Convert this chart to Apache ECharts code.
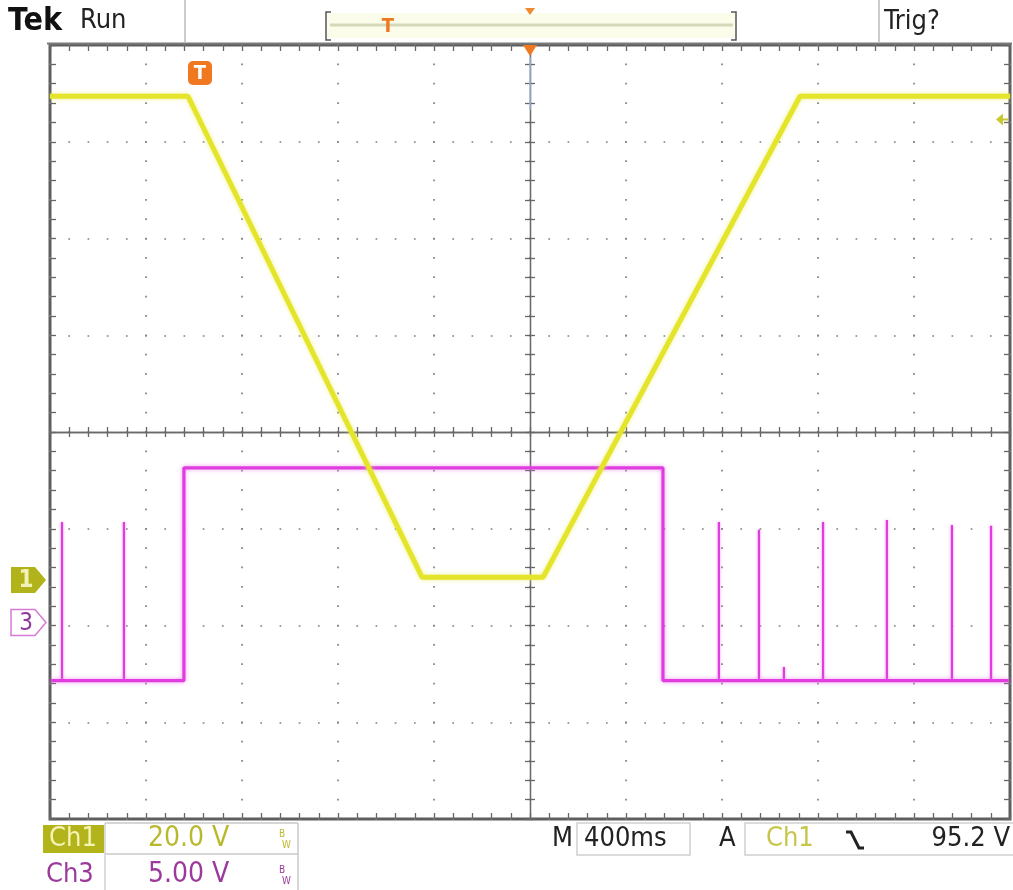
<!DOCTYPE html>
<html>
<head>
<meta charset="utf-8">
<script src="https://cdn.jsdelivr.net/npm/echarts@6/dist/echarts.min.js"></script>
<style>
html,body{margin:0;padding:0;background:#fff;}
#c{width:1013px;height:890px;}
</style>
</head>
<body>
<div id="c"></div>
<script>
// ---------- DATA (time in ms, voltage in V) ----------
const ch1Times = [-2000, -1425, -450, 55, 1125, 2000];
const ch1Volts = [100, 100, 0.6, 0.6, 100, 100];

const ch3Times = [-1995, -1442, -1442, 554, 554, 1995];
const ch3Volts = [-3, -3, 8, 8, -3, -3];

const ch3SpikeTimes = [-1950, -1692, 787, 954, 1058, 1221, 1487, 1758, 1921];
const ch3SpikeVolts = [5.2, 5.2, 5.2, 4.8, -2.3, 5.2, 5.3, 5.05, 5.0];
const ch3SpikeBase = -3;

const ch1VoltsPerDiv = 20, ch1GroundDiv = -1.53;
const ch3VoltsPerDiv = 5,  ch3GroundDiv = -1.97;
const trigLevel = 95.2, trigTime = -1375;

const xMin = -2000, xMax = 2000, xInterval = 400;
const yDivMin = -4, yDivMax = 4;

// ---------- CHART ----------
const FONT = "'DejaVu Sans Condensed','Liberation Sans Narrow',sans-serif";
const G = {left: 50, right: 3, top: 45, bottom: 71};
const gridW = 1013 - G.left - G.right, gridH = 890 - G.top - G.bottom;
const px = gridW / 50, py = gridH / 40;

const ch1 = ch1Times.map((t, i) => [t, ch1Volts[i]]);
const ch3 = ch3Times.map((t, i) => [t, ch3Volts[i]]);
const spikes = [];
ch3SpikeTimes.forEach((t, i) => { spikes.push([t, ch3SpikeBase], [t, ch3SpikeVolts[i]], null); });

const tickCol = '#666';
function xAx(pos, onZero, split) {
  return {
    type: 'value', min: xMin, max: xMax, interval: xInterval, position: pos,
    axisLine: {show: onZero, onZero: onZero, onZeroAxisIndex: 0, lineStyle: {color: '#6a6a6a', width: 1.3}},
    axisTick: {show: true, inside: true, length: onZero ? 5 : 6, lineStyle: {color: tickCol, width: 1.3}},
    minorTick: {show: true, splitNumber: 5, length: onZero ? 5 : 6, lineStyle: {color: tickCol, width: 1.3}},
    axisLabel: {show: false},
    splitLine: {show: split, lineStyle: {color: '#808080', width: 1.7, type: [1.7, py - 1.7], dashOffset: 0.85}}
  };
}
function yAx(pos, onZero, split) {
  return {
    type: 'value', min: yDivMin, max: yDivMax, interval: 1, position: pos,
    axisLine: {show: onZero, onZero: onZero, onZeroAxisIndex: 0, lineStyle: {color: '#6a6a6a', width: 1.3}},
    axisTick: {show: true, inside: true, length: onZero ? 5 : 6, lineStyle: {color: tickCol, width: 1.3}},
    minorTick: {show: true, splitNumber: 5, length: onZero ? 5 : 6, lineStyle: {color: tickCol, width: 1.3}},
    axisLabel: {show: false},
    splitLine: {show: split, lineStyle: {color: '#808080', width: 1.7, type: [1.7, px - 1.7], dashOffset: 0.85}}
  };
}

const option = {
  animation: false,
  backgroundColor: '#ffffff',
  grid: {left: G.left, right: G.right, top: G.top, bottom: G.bottom, show: true,
         borderColor: '#5e5e5e', borderWidth: 3, backgroundColor: 'transparent'},
  xAxis: [xAx('bottom', false, true), xAx('top', false, false), xAx('bottom', true, false), xAx('top', true, false)],
  yAxis: [yAx('left', false, true), yAx('right', false, false), yAx('left', true, false), yAx('right', true, false),
    {type: 'value', show: false, min: (yDivMin - ch1GroundDiv) * ch1VoltsPerDiv, max: (yDivMax - ch1GroundDiv) * ch1VoltsPerDiv, axisLine: {onZero: false}, splitLine: {show: false}},
    {type: 'value', show: false, min: (yDivMin - ch3GroundDiv) * ch3VoltsPerDiv, max: (yDivMax - ch3GroundDiv) * ch3VoltsPerDiv, axisLine: {onZero: false}, splitLine: {show: false}}
  ],
  series: [
    {name: 'Ch3 spikes', type: 'line', xAxisIndex: 0, yAxisIndex: 5, data: spikes, showSymbol: false, z: 3, connectNulls: false,
     lineStyle: {color: '#e03ce0', width: 2.2, shadowColor: 'rgba(235,120,235,0.7)', shadowBlur: 3}},
    {name: 'Ch3', type: 'line', xAxisIndex: 0, yAxisIndex: 5, data: ch3, showSymbol: false, z: 3,
     lineStyle: {color: '#e03ce0', width: 3.2, shadowColor: 'rgba(235,120,235,0.75)', shadowBlur: 4}},
    {name: 'Ch1', type: 'line', xAxisIndex: 0, yAxisIndex: 4, data: ch1, showSymbol: false, z: 4,
     lineStyle: {color: '#e4e42a', width: 5, shadowColor: 'rgba(235,235,90,0.7)', shadowBlur: 4}}
  ]
};

const chart = echarts.init(document.getElementById('c'), null, {renderer: 'canvas'});
chart.setOption(option);

const g1 = chart.convertToPixel({yAxisIndex: 4}, 0);
const g3 = chart.convertToPixel({yAxisIndex: 5}, 0);
const tl = chart.convertToPixel({yAxisIndex: 4}, trigLevel);
const tx = chart.convertToPixel({xAxisIndex: 0}, trigTime);
const cx = chart.convertToPixel({xAxisIndex: 0}, 0);

function txt(text, x, y, size, fill, opts) {
  return {type: 'text', z: 100, style: {text: text, x: x, y: y, fill: fill,
    font: (opts && opts.weight ? opts.weight + ' ' : '') + size + 'px ' + FONT,
    align: (opts && opts.align) || 'left', verticalAlign: 'middle'}};
}
function line(x1, y1, x2, y2, color, w) {
  return {type: 'line', z: 90, shape: {x1: x1, y1: y1, x2: x2, y2: y2}, style: {stroke: color, lineWidth: w}};
}

const gfx = [
  // header
  txt('Tek', 8, 22, 32, '#111', {weight: 'bold'}),
  txt('Run', 80, 21, 27, '#222'),
  txt('Trig?', 884, 22, 27, '#222'),
  line(185, 0, 185, 42, '#bbbbbb', 1.5),
  line(879, 0, 879, 42, '#bbbbbb', 1.5),
  {type: 'rect', z: 80, shape: {x: 327, y: 13, width: 408, height: 25}, style: {fill: '#fcfcea'}},
  line(330, 25, 733, 25, '#d4d8b8', 3),
  {type: 'polyline', z: 90, shape: {points: [[331, 12], [326, 12], [326, 40], [331, 40]]}, style: {stroke: '#555', lineWidth: 1.5, fill: null}},
  {type: 'polyline', z: 90, shape: {points: [[731, 12], [736, 12], [736, 40], [731, 40]]}, style: {stroke: '#555', lineWidth: 1.5, fill: null}},
  txt('T', 388, 27, 20, '#f07820', {align: 'center', weight: 'bold'}),
  {type: 'polygon', z: 95, shape: {points: [[cx - 5, 8], [cx + 5, 8], [cx, 15]]}, style: {fill: '#f08a30'}},
  line(47, 43.5, 1012, 43.5, '#7a7a7a', 2),
  {type: 'polygon', z: 95, shape: {points: [[cx - 7, 45], [cx + 7, 45], [cx, 56]]}, style: {fill: '#f07820'}},
  line(cx, 57, cx, 110, '#9fb8d8', 1.5),
  // trigger marker "T"
  {type: 'rect', z: 95, shape: {x: tx - 12, y: 61, width: 24, height: 24, r: 5}, style: {fill: '#f07820'}},
  txt('T', tx, 74, 20, '#ffffff', {align: 'center', weight: 'bold'}),
  // trigger level arrow
  {type: 'polygon', z: 95, shape: {points: [[996, tl], [1003, tl - 6], [1003, tl + 6]]}, style: {fill: '#c8c830'}},
  line(1000, tl, 1008, tl, '#c8c830', 2),
  // ground markers
  {type: 'polygon', z: 95, shape: {points: [[11, g1 - 13], [35, g1 - 13], [46, g1], [35, g1 + 13], [11, g1 + 13]]}, style: {fill: '#b2b21a'}},
  txt('1', 26, g1 + 1, 24, '#f2f2b8', {align: 'center', weight: 'bold'}),
  {type: 'polygon', z: 95, shape: {points: [[11, g3 - 13], [35, g3 - 13], [46, g3], [35, g3 + 13], [11, g3 + 13]]}, style: {fill: '#fff', stroke: '#d67ad6', lineWidth: 1.5}},
  txt('3', 26, g3 + 1, 24, '#8e3a9c', {align: 'center'}),
  // footer boxes
  {type: 'rect', z: 80, shape: {x: 43, y: 825, width: 61, height: 28}, style: {fill: '#b3b31c'}},
  line(105, 823, 298, 823, '#c8c8c8', 1.5),
  line(105, 854, 298, 854, '#c8c8c8', 1.5),
  line(105, 823, 105, 890, '#d0d0d0', 1.5),
  line(298, 823, 298, 890, '#c8c8c8', 1.5),
  txt('Ch1', 73, 839, 27, '#f4f4b4', {align: 'center'}),
  txt('20.0 V', 148, 839, 28, '#b9b92e'),
  txt('B', 279, 834, 10, '#b9b92e'),
  txt('W', 282, 845, 10, '#b9b92e'),
  txt('Ch3', 46, 875, 27, '#9c3a9c'),
  txt('5.00 V', 148, 875, 28, '#9c3a9c'),
  txt('B', 279, 870, 10, '#9c3a9c'),
  txt('W', 282, 881, 10, '#9c3a9c'),
  txt('M', 552, 839, 27, '#222'),
  {type: 'rect', z: 85, shape: {x: 577, y: 823, width: 113, height: 32}, style: {fill: 'none', stroke: '#cfcfcf', lineWidth: 1.5}},
  txt('400ms', 584, 839, 27, '#222'),
  txt('A', 719, 839, 27, '#222'),
  {type: 'rect', z: 85, shape: {x: 745, y: 823, width: 275, height: 32}, style: {fill: 'none', stroke: '#cfcfcf', lineWidth: 1.5}},
  txt('Ch1', 766, 839, 27, '#c6c64c'),
  {type: 'polyline', z: 95, shape: {points: [[846, 832], [851, 832], [859, 848], [864, 848]]}, style: {stroke: '#222', lineWidth: 3, fill: null}},
  txt('95.2 V', 1010, 839, 27, '#222', {align: 'right'})
];
chart.setOption({graphic: {elements: gfx}});
</script>
</body>
</html>
